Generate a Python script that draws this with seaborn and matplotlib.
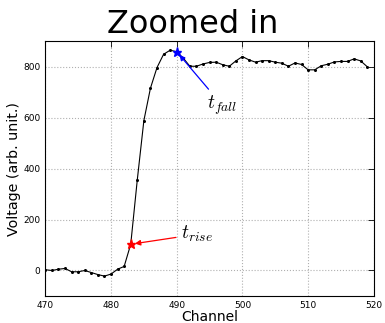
import matplotlib
matplotlib.use("Agg")
import matplotlib.pyplot as plt
import seaborn as sns
import pandas as pd

# Pulse samples around the rising edge
channels = list(range(470, 520))
voltage = [3, 0, 5, 8, -5, -5, 0, -8, -16, -22,
           -14, 5, 16, 103, 356, 588, 715, 796, 848, 864,
           858, 833, 801, 801, 810, 816, 817, 807, 801, 822,
           839, 826, 817, 823, 823, 817, 813, 801, 814, 808,
           787, 787, 803, 809, 818, 820, 820, 830, 822, 799]

rise_channel = 483
fall_channel = 490

xticks = [470, 480, 490, 500, 510, 520]
yticks = [0, 200, 400, 600, 800]

sns.set_style("white")
plt.rcParams.update({
    "mathtext.fontset": "cm",
    "xtick.direction": "in",
    "ytick.direction": "in",
    "xtick.top": True,
    "ytick.right": True,
    "axes.edgecolor": "black",
    "axes.linewidth": 0.8,
    "text.color": "black",
    "axes.labelcolor": "black",
    "xtick.color": "black",
    "ytick.color": "black",
})
plt.rcParams["font.family"] = ["DejaVu Sans"]

df = pd.DataFrame({"Channel": channels, "Voltage": voltage})

fig = plt.figure(figsize=(3.85, 3.23), dpi=100)
ax = fig.add_axes([0.1177, 0.0836, 0.8533, 0.7894])

sns.lineplot(data=df, x="Channel", y="Voltage", ax=ax, color="black",
             linewidth=0.8, marker="o", markersize=2.2, markeredgewidth=0)

rise_val = voltage[channels.index(rise_channel)]
fall_val = voltage[channels.index(fall_channel)]
ax.plot([rise_channel], [rise_val], marker="*", color="red", markersize=6.5,
        linestyle="none")
ax.plot([fall_channel], [fall_val], marker="*", color="blue", markersize=6.5,
        linestyle="none")

ax.annotate(r"$t_{rise}$", xy=(rise_channel, rise_val), xytext=(490.6, 142),
            fontsize=14, ha="left", va="center", color="black",
            arrowprops=dict(arrowstyle="-|>", color="red", lw=0.9,
                            mutation_scale=8, shrinkA=1, shrinkB=3))
ax.annotate(r"$t_{fall}$", xy=(fall_channel, fall_val), xytext=(494.6, 648),
            fontsize=14, ha="left", va="center", color="black",
            arrowprops=dict(arrowstyle="-|>", color="blue", lw=0.9,
                            mutation_scale=8, shrinkA=1, shrinkB=3))

ax.set_xlim(470, 520)
ax.set_ylim(-100, 900)
ax.set_xticks(xticks)
ax.set_yticks(yticks)
ax.tick_params(labelsize=6.5, width=0.6, length=4)
ax.grid(True, linestyle=":", color="#b0b0b0", linewidth=0.8)
ax.set_xlabel("Channel", fontsize=10, labelpad=0)
ax.set_ylabel("Voltage (arb. unit.)", fontsize=10.3, labelpad=1.5)
fig.suptitle("Zoomed in", fontsize=23, x=0.5, y=1 - 33 / 323, va="baseline")

fig.savefig("out.png", dpi=100)
